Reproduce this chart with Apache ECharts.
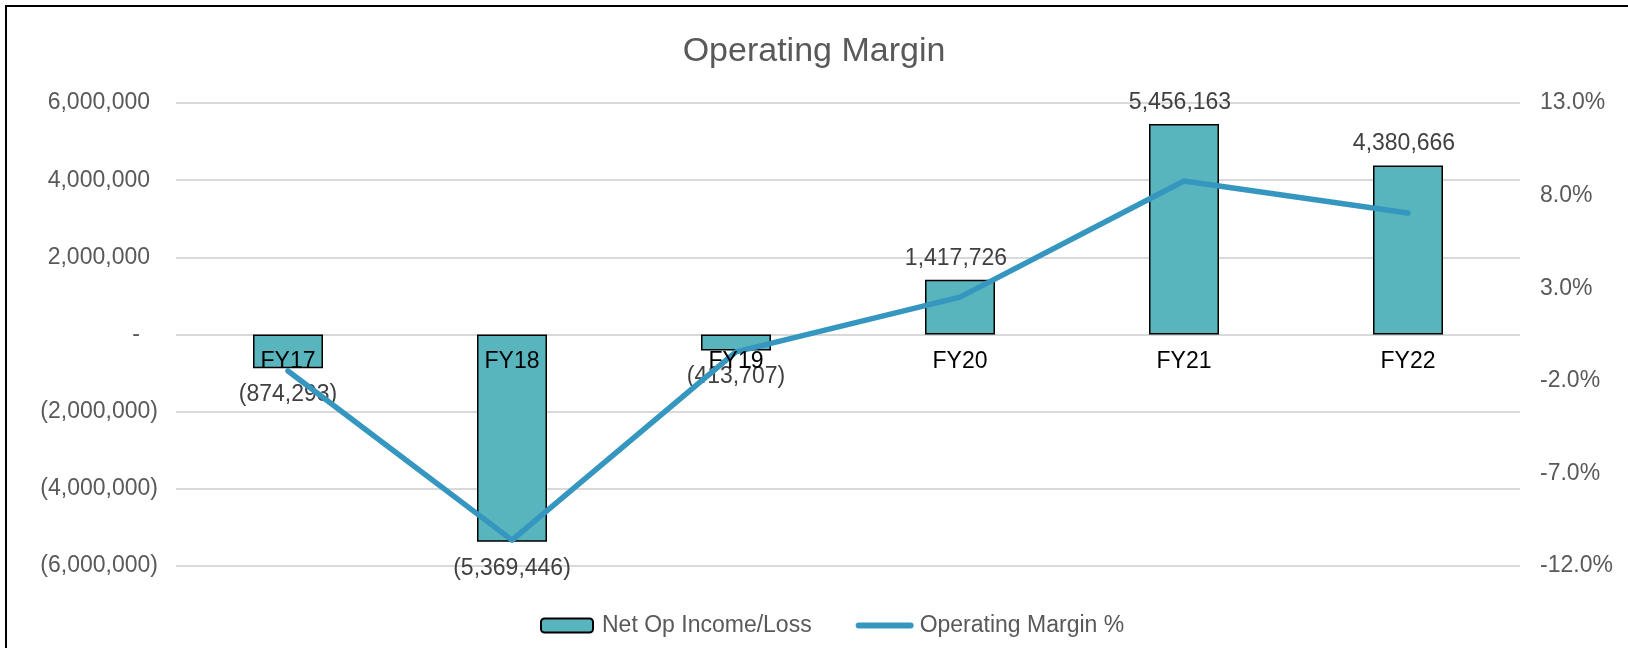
<!DOCTYPE html>
<html lang="en">
  <head>
    <meta charset="UTF-8" />
    <title>Operating Margin</title>
    <script src="https://cdn.jsdelivr.net/npm/echarts@6/dist/echarts.min.js"></script>
    <style>
      html, body { margin: 0; padding: 0; background: #fff; }
      #chart { width: 1628px; height: 648px; }
    </style>
  </head>
  <body>
    <div id="chart"></div>
    <script>
      // chart data
      const years = ["FY17", "FY18", "FY19", "FY20", "FY21", "FY22"];
      const netOpIncome = [-874293, -5369446, -413707, 1417726, 5456163, 4380666];
      const marginPct = [-1.47, -10.6, -0.44, 2.52, 8.79, 7.06];

      const font = "'Liberation Sans', Arial, sans-serif";
      const H = 648, gridTop = 103, gridBottom = 82;
      const leftMin = -6000000, leftMax = 6000000;

      // accounting style: 1,234 / (1,234) / -
      function fmtNum(v) {
        if (v === 0) return "{n|-}{z| }";
        const s = Math.abs(v).toLocaleString("en-US");
        return v < 0 ? "{n|(" + s + ")}" : "{n|" + s + "}{p| }";
      }

      // the category labels sit on the zero line (onZero did not kick in here)
      const plotH = H - gridTop - gridBottom;
      const zeroLift = -plotH * (0 - leftMin) / (leftMax - leftMin);

      const chart = echarts.init(document.getElementById("chart"));

      chart.setOption({
        animation: false,
        textStyle: { fontFamily: font },
        title: {
          text: "Operating Margin",
          left: "center",
          top: 30,
          textStyle: { fontFamily: font, fontSize: 34, fontWeight: "normal", color: "#595959" }
        },
        graphic: [{
          type: "rect",
          shape: { x: 6, y: 6, width: 1640, height: 660 },
          style: { fill: "none", stroke: "#000", lineWidth: 2 },
          silent: true
        }],
        legend: {
          left: 535,
          top: 609,
          itemWidth: 52,
          itemHeight: 14,
          itemGap: 44,
          textStyle: { fontFamily: font, fontSize: 23, color: "#595959", padding: [0, 0, 0, 4] },
          data: [
            "Net Op Income/Loss",
            {
              name: "Operating Margin %",
              itemStyle: { opacity: 0 },
              lineStyle: { width: 6, cap: "round" }
            }
          ]
        },
        grid: { left: 176, right: 108, top: gridTop, bottom: gridBottom },
        xAxis: {
          type: "category",
          data: years,
          z: 5,
          offset: zeroLift,
          axisLine: { show: false, onZero: false },
          axisTick: { show: false },
          axisLabel: { fontFamily: font, fontSize: 23, color: "#000", margin: 16 }
        },
        yAxis: [
          {
            type: "value",
            min: leftMin,
            max: leftMax,
            interval: 2000000,
            axisLine: { show: false },
            axisTick: { show: false },
            splitLine: { lineStyle: { color: "#d9d9d9", width: 2 } },
            axisLabel: {
              margin: 18,
              formatter: fmtNum,
              rich: {
                n: { fontFamily: font, fontSize: 23, color: "#595959" },
                p: { fontSize: 23, width: 8 },
                z: { fontSize: 23, width: 18 }
              }
            }
          },
          {
            type: "value",
            min: -12,
            max: 13,
            interval: 5,
            alignTicks: false,
            axisLine: { show: false },
            axisTick: { show: false },
            splitLine: { show: false },
            axisLabel: {
              margin: 20,
              fontFamily: font,
              fontSize: 23,
              color: "#595959",
              formatter: (v) => v.toFixed(1) + "%"
            }
          }
        ],
        series: [
          {
            name: "Net Op Income/Loss",
            type: "bar",
            barWidth: 70,
            itemStyle: { color: "#58b5be", borderColor: "#000", borderWidth: 1.5 },
            label: {
              show: true,
              formatter: (p) => fmtNum(p.value),
              rich: {
                n: { fontFamily: font, fontSize: 23, color: "#404040" },
                p: { fontSize: 23, width: 8 },
                z: { fontSize: 23, width: 18 }
              }
            },
            data: netOpIncome.map((v) => ({
              value: v,
              label: { position: v < 0 ? "bottom" : "top", distance: v < 0 ? 15 : 10 }
            }))
          },
          {
            name: "Operating Margin %",
            type: "line",
            yAxisIndex: 1,
            symbol: "none",
            z: 4,
            lineStyle: { color: "#3597c0", width: 5.5, cap: "round", join: "round" },
            itemStyle: { color: "#3597c0" },
            data: marginPct
          }
        ]
      });
    </script>
  </body>
</html>
